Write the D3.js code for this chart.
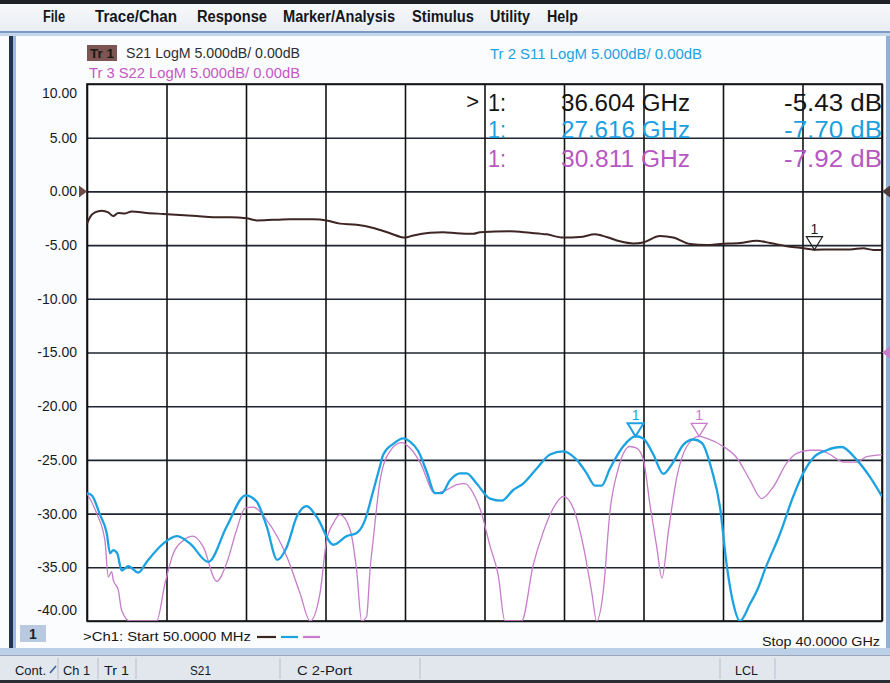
<!DOCTYPE html>
<html><head><meta charset="utf-8">
<script src="https://cdn.jsdelivr.net/npm/d3@7"></script>
<style>
body{margin:0;background:#fff;}
svg{display:block;font-family:"Liberation Sans",Arial,sans-serif;}
</style>
</head><body>
<svg id="c" width="890" height="683"></svg>
<script>
// ---------------- DATA ----------------
const menuItems = ["File","Trace/Chan","Response","Marker/Analysis","Stimulus","Utility","Help"];
const yTicks = [10,5,0,-5,-10,-15,-20,-25,-30,-35,-40];
const startGHz = 0.05, stopGHz = 40;
const xDivisions = 10;

// S21 (Tr 1) [GHz, dB]
const s21 = [[0.05,-3.0],[0.20,-2.4],[0.45,-1.96],[0.79,-1.8],[1.12,-1.96],[1.37,-2.3],[1.62,-2.0],[1.96,-2.05],
[2.30,-1.86],[3.05,-2.0],[3.88,-2.1],[4.72,-2.2],[5.56,-2.3],[6.40,-2.4],[7.24,-2.4],[8.07,-2.5],[8.58,-2.7],
[9.41,-2.65],[10.25,-2.6],[11.42,-2.6],[12.09,-2.7],[12.76,-3.0],[13.60,-3.1],[14.44,-3.4],[15.28,-3.9],[16.03,-4.3],
[16.45,-4.1],[17.29,-3.85],[17.95,-3.8],[18.63,-3.9],[19.46,-3.95],[19.80,-3.8],[21.31,-3.7],[22.31,-3.85],[23.15,-4.0],
[23.98,-4.3],[24.82,-4.25],[25.58,-4.0],[26.16,-4.25],[26.83,-4.65],[27.50,-4.85],[28.00,-4.75],[28.84,-4.15],[29.51,-4.3],
[30.35,-4.9],[31.19,-5.0],[31.86,-4.9],[32.86,-4.8],[33.70,-4.6],[34.37,-4.8],[35.21,-5.1],[35.88,-5.25],[36.60,-5.43],
[37.55,-5.4],[38.39,-5.4],[39.06,-5.3],[39.56,-5.45],[40.00,-5.45]];

// S11 (Tr 2) [GHz, dB]
const s11 = [[0.05,-28.1],[0.29,-28.3],[0.70,-30.1],[1.04,-31.8],[1.21,-33.7],[1.37,-33.4],[1.57,-33.7],[1.79,-35.3],
[2.13,-34.9],[2.63,-35.5],[3.05,-34.5],[3.88,-32.8],[4.56,-32.1],[5.23,-32.8],[6.15,-34.5],[7.07,-31.2],[8.02,-28.3],
[8.58,-28.9],[9.08,-31.2],[9.61,-34.3],[10.09,-33.1],[10.59,-30.3],[11.09,-29.3],[11.59,-30.3],[12.43,-32.9],[13.10,-32.1],
[13.60,-31.8],[14.02,-30.6],[14.36,-28.4],[14.74,-25.8],[14.94,-24.5],[15.44,-23.5],[15.94,-23.0],[16.28,-23.3],[16.70,-24.2],
[17.12,-26.1],[17.54,-28.1],[17.87,-28.1],[18.29,-26.9],[18.79,-26.25],[19.13,-26.25],[19.63,-27.2],[20.30,-28.6],[20.89,-28.8],
[21.47,-27.8],[21.97,-27.2],[22.65,-25.8],[23.32,-24.5],[23.98,-24.2],[24.66,-25.0],[25.16,-26.25],[25.58,-27.4],[25.91,-27.4],
[26.33,-25.8],[26.99,-23.75],[27.62,-22.8],[28.00,-23.0],[28.51,-24.5],[29.01,-26.3],[29.51,-25.2],[30.01,-23.6],[30.52,-23.1],
[30.94,-23.4],[31.44,-25.9],[31.86,-29.4],[32.19,-34.7],[32.53,-38.4],[32.86,-40],[33.37,-38.4],[33.78,-36.9],[34.12,-35.2],
[34.87,-31.9],[35.54,-28.4],[36.04,-26.25],[36.55,-24.8],[37.22,-24.1],[37.97,-23.8],[38.73,-25.0],[39.40,-26.6],[40.00,-28.4]];

// S22 (Tr 3) [GHz, dB]
const s22 = [[0.05,-28.1],[0.54,-30.0],[0.95,-32.5],[1.12,-35.9],[1.29,-35.4],[1.37,-36.2],[1.62,-37.1],[1.79,-39.0],
[2.21,-40],[3.55,-40],[3.97,-36.5],[4.39,-33.7],[4.89,-32.5],[5.39,-32.1],[5.89,-33.1],[6.57,-36.3],[7.07,-34.6],[7.57,-31.5],
[7.99,-29.5],[8.41,-29.4],[9.08,-30.6],[10.09,-34.0],[10.75,-37.4],[11.26,-40],[11.76,-37.4],[12.09,-32.5],[12.43,-30.9],
[12.76,-30.1],[13.27,-31.5],[13.60,-35.3],[13.85,-40],[14.10,-39.6],[14.27,-35.3],[14.44,-32.3],[14.77,-27.0],[15.27,-24.2],
[15.86,-23.4],[16.28,-23.9],[16.78,-25.2],[17.54,-28.1],[18.12,-27.8],[18.63,-27.3],[19.04,-27.2],[19.46,-28.1],[19.88,-30.0],
[20.30,-33.0],[20.72,-35.8],[21.05,-40],[21.89,-40],[22.47,-34.8],[22.98,-31.7],[23.48,-29.5],[23.98,-28.4],[24.49,-29.5],
[24.99,-33.0],[25.41,-37.3],[25.66,-40],[25.99,-37.3],[26.33,-29.8],[26.75,-25.8],[27.33,-23.75],[27.67,-23.9],[28.00,-24.9],
[28.35,-29.3],[28.68,-33.1],[28.94,-36.0],[29.27,-31.6],[29.69,-26.6],[30.19,-23.75],[30.81,-22.8],[31.20,-23.0],[32.03,-23.75],
[32.70,-24.8],[33.37,-26.9],[33.95,-28.6],[34.54,-27.5],[35.21,-25.3],[35.71,-24.4],[36.38,-24.1],[36.88,-24.1],[37.39,-24.5],
[38.05,-25.2],[38.73,-25.2],[39.23,-24.7],[40.00,-24.5]];

const traceNames = ["S21","S11","S22"];
const traceLabels = ["Tr 1","Tr 2","Tr 3"];
const markerFreq = [36.604, 27.616, 30.811];
const markerReadDb = [-5.43, -7.70, -7.92];
const scaleText = "LogM 5.000dB/ 0.00dB";

// ---------------- LAYOUT / STYLE ----------------
const svg = d3.select("#c");
const L = 87, R = 882, T = 84, B = 621;
const colors = {S21:"#3d2523", S11:"#1ca2e2", S22:"#c77ccc"};
const widths = {S21:2.0, S11:2.3, S22:1.3};

const x = d3.scaleLinear().domain([startGHz, stopGHz]).range([L, R]);
const y = d3.scaleLinear().domain([-40, 10]).range([B, T]);

// window chrome
svg.append("rect").attr("x",0).attr("y",0).attr("width",890).attr("height",683).attr("fill","#fbfcfd");
const mg = svg.append("defs").append("linearGradient").attr("id","menuG").attr("x1",0).attr("y1",0).attr("x2",0).attr("y2",1);
mg.append("stop").attr("offset","0").attr("stop-color","#f7f8fa");
mg.append("stop").attr("offset","1").attr("stop-color","#e9edf2");
svg.append("rect").attr("x",0).attr("y",0).attr("width",890).attr("height",4).attr("fill","#1e2128");
svg.append("rect").attr("x",0).attr("y",4).attr("width",890).attr("height",28).attr("fill","url(#menuG)");
svg.append("rect").attr("x",0).attr("y",31).attr("width",890).attr("height",2).attr("fill","#7c9cc6");
svg.append("rect").attr("x",0).attr("y",33).attr("width",890).attr("height",3).attr("fill","#c6d7ec");
svg.append("rect").attr("x",9).attr("y",36).attr("width",4).attr("height",614).attr("fill","#25324d");
svg.append("rect").attr("x",13).attr("y",36).attr("width",3).attr("height",614).attr("fill","#9dbbe0");
svg.append("rect").attr("x",886).attr("y",36).attr("width",4).attr("height",614).attr("fill","#8fb0d8");
svg.append("rect").attr("x",0).attr("y",648).attr("width",890).attr("height",7).attr("fill","#bcd0e8");
svg.append("rect").attr("x",0).attr("y",655).attr("width",890).attr("height",25).attr("fill","#e2e6ed");
svg.append("rect").attr("x",0).attr("y",655).attr("width",890).attr("height",1).attr("fill","#9aa6b8");
svg.append("rect").attr("x",0).attr("y",680).attr("width",890).attr("height",3).attr("fill","#2a2d33");

// menu
const menuX = [43, 95, 197, 283, 412, 490, 547];
const menuW = [22, 82, 70, 112, 62, 40, 31];
svg.append("g").selectAll("text").data(menuItems).join("text")
  .attr("x",(d,i)=>menuX[i]).attr("y",22)
  .attr("textLength",(d,i)=>menuW[i]).attr("lengthAdjust","spacingAndGlyphs")
  .attr("font-size",16).attr("font-weight","bold").attr("fill","#14171c").text(d=>d);

// trace header
svg.append("rect").attr("x",87).attr("y",45).attr("width",30).attr("height",16).attr("fill","#7d5553");
svg.append("text").attr("x",90).attr("y",58).attr("font-size",13).attr("font-weight","bold").attr("fill","#1a1a1a")
  .attr("textLength",24).attr("lengthAdjust","spacingAndGlyphs").text(traceLabels[0]);
svg.append("text").attr("x",126).attr("y",58).attr("font-size",14).attr("fill","#2e2e2e")
  .attr("textLength",174).attr("lengthAdjust","spacingAndGlyphs").text(traceNames[0]+" "+scaleText);
svg.append("text").attr("x",490).attr("y",59).attr("font-size",14).attr("fill",colors.S11)
  .attr("textLength",212).attr("lengthAdjust","spacingAndGlyphs").text(traceLabels[1]+"  "+traceNames[1]+" "+scaleText);
svg.append("text").attr("x",89).attr("y",78).attr("font-size",14).attr("fill","#c458c4")
  .attr("textLength",211).attr("lengthAdjust","spacingAndGlyphs").text(traceLabels[2]+"  "+traceNames[2]+" "+scaleText);

// plot background
svg.append("rect").attr("x",L).attr("y",T).attr("width",R-L).attr("height",B-T).attr("fill","#ffffff");

// horizontal grid + y labels via axis
const yAxis = d3.axisLeft(y).tickValues(yTicks).tickFormat(d=>d.toFixed(2)).tickSize(-(R-L)).tickPadding(10);
const ya = svg.append("g").attr("transform",`translate(${L},0)`).call(yAxis);
ya.select(".domain").remove();
ya.selectAll(".tick line").attr("stroke","#1f2530").attr("stroke-width",1.6);
ya.selectAll(".tick text").attr("font-size",14).attr("fill","#1a1a1a")
  .attr("font-family","'Liberation Sans',Arial,sans-serif")
  .attr("dy",d=> d===10 ? "0.95em" : d===-40 ? "-0.45em" : "0.32em");

// vertical grid via axis
const xGrid = d3.range(0, xDivisions+1).map(i => startGHz + i*(stopGHz-startGHz)/xDivisions);
const xAxis = d3.axisBottom(x).tickValues(xGrid).tickFormat("").tickSize(-(B-T));
const xa = svg.append("g").attr("transform",`translate(0,${B})`).call(xAxis);
xa.select(".domain").remove();
xa.selectAll(".tick line").attr("stroke","#121212").attr("stroke-width",1.6);
svg.append("rect").attr("x",L).attr("y",T).attr("width",R-L).attr("height",B-T)
  .attr("fill","none").attr("stroke","#121212").attr("stroke-width",1.6);

// traces
svg.append("clipPath").attr("id","clip").append("rect").attr("x",L).attr("y",T-1).attr("width",R-L).attr("height",B-T+1);
const line = d3.line().x(d=>x(d[0])).y(d=>y(Math.max(-40,d[1]))).curve(d3.curveMonotoneX);
const traces = [["S22",s22],["S11",s11],["S21",s21]];
const tg = svg.append("g").attr("clip-path","url(#clip)");
traces.forEach(([n,data])=>{
  tg.append("path").datum(data).attr("d",line).attr("fill","none")
    .attr("stroke",colors[n]).attr("stroke-width",widths[n]).attr("stroke-linejoin","round");
});

// reference position arrows
svg.append("path").attr("d",`M${L-8},${y(0)-6} L${L},${y(0)} L${L-8},${y(0)+6} Z`).attr("fill","#6d4a48");
svg.append("path").attr("d",`M${R+8},${y(0)-6} L${R},${y(0)} L${R+8},${y(0)+6} Z`).attr("fill","#4d3a3a");
svg.append("path").attr("d",`M${R+8},${y(-15)-6} L${R},${y(-15)} L${R+8},${y(-15)+6} Z`).attr("fill","#c77ccc");

// markers
function valueAt(data,f){
  const i = d3.bisector(d=>d[0]).left(data,f);
  if(i<=0) return data[0][1];
  if(i>=data.length) return data[data.length-1][1];
  const a=data[i-1], b=data[i]; const t=(f-a[0])/(b[0]-a[0]);
  return a[1]+t*(b[1]-a[1]);
}
const markerTraces = [["S21",s21],["S11",s11],["S22",s22]];
const mcol = {S21:"#222", S11:"#1ca2e2", S22:"#c77ccc"};
markerTraces.forEach(([n,data],i)=>{
  const mx = x(markerFreq[i]), my = y(valueAt(data,markerFreq[i]));
  svg.append("path").attr("d",`M${mx-8},${my-13} L${mx+8},${my-13} L${mx},${my} Z`)
    .attr("fill","none").attr("stroke",mcol[n]).attr("stroke-width",n==="S11"?2:1.3);
  svg.append("text").attr("x",mx).attr("y",my-16).attr("text-anchor","middle")
    .attr("font-size",14).attr("fill",mcol[n]).text("1");
});

// marker readout
const readCol = ["#141414","#1a9fe2","#b657c2"];
const readY = [111, 138, 167];
svg.append("text").attr("x",479).attr("y",readY[0]-2).attr("text-anchor","end").attr("font-size",22).attr("fill","#141414").text(">");
markerFreq.forEach((f,i)=>{
  svg.append("text").attr("x",488).attr("y",readY[i]).attr("font-size",23).attr("fill",readCol[i])
    .attr("textLength",18).attr("lengthAdjust","spacingAndGlyphs").text("1:");
  svg.append("text").attr("x",690).attr("y",readY[i]).attr("text-anchor","end").attr("font-size",23).attr("fill",readCol[i])
    .attr("textLength",129).attr("lengthAdjust","spacingAndGlyphs").text(f.toFixed(3)+" GHz");
  svg.append("text").attr("x",882).attr("y",readY[i]).attr("text-anchor","end").attr("font-size",23).attr("fill",readCol[i])
    .attr("textLength",98).attr("lengthAdjust","spacingAndGlyphs").text(markerReadDb[i].toFixed(2)+" dB");
});

// bottom channel line
svg.append("rect").attr("x",20).attr("y",625).attr("width",26).attr("height",17).attr("fill","#b9c9df");
svg.append("text").attr("x",33).attr("y",639).attr("text-anchor","middle").attr("font-size",14).attr("font-weight","bold").attr("fill","#1c2230").text("1");
svg.append("text").attr("x",83).attr("y",641).attr("font-size",13).attr("fill","#161616")
  .attr("textLength",168).attr("lengthAdjust","spacingAndGlyphs").text(">Ch1: Start  "+(startGHz*1000).toFixed(4)+" MHz");
[["S21",257,276],["S11",281,298],["S22",303,320]].forEach(([n,a,b])=>{
  svg.append("line").attr("x1",a).attr("x2",b).attr("y1",637).attr("y2",637).attr("stroke",colors[n]).attr("stroke-width",2.2);
});
svg.append("text").attr("x",880).attr("y",646).attr("text-anchor","end").attr("font-size",13).attr("fill","#161616")
  .attr("textLength",118).attr("lengthAdjust","spacingAndGlyphs").text("Stop "+stopGHz.toFixed(4)+" GHz");

// status bar
const statusItems = [["Cont.",15,31],["Ch 1",63,27],["Tr 1",104,25],["S21",190,21],["C  2-Port",297,55],["LCL",735,23]];
statusItems.forEach(([t,sx,w])=>{
  svg.append("text").attr("x",sx).attr("y",675).attr("font-size",13).attr("fill","#15181d")
    .attr("textLength",w).attr("lengthAdjust","spacingAndGlyphs").text(t);
});
svg.append("line").attr("x1",50).attr("y1",673).attr("x2",56).attr("y2",666).attr("stroke","#3a5a90").attr("stroke-width",1.5);
[58, 98, 136, 280, 420, 720, 775].forEach(sx=>{
  svg.append("line").attr("x1",sx).attr("x2",sx).attr("y1",658).attr("y2",679).attr("stroke","#b8c0cc").attr("stroke-width",1);
});
</script>
</body></html>
